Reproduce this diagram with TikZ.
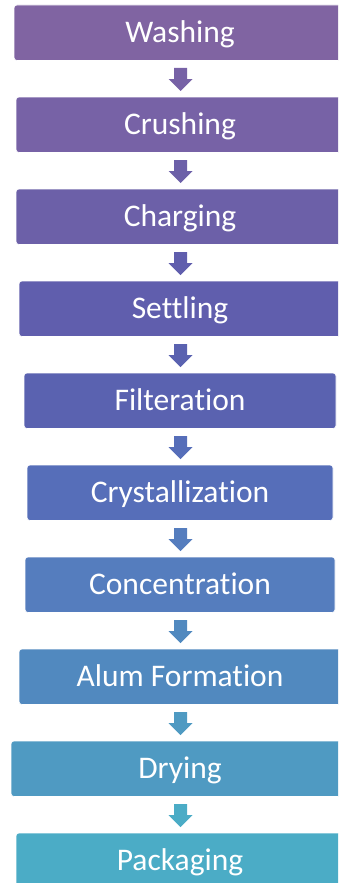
\documentclass[tikz,border=0pt]{standalone}
\usepackage{fontspec}
\setmainfont{Carlito}[Ligatures={NoCommon,NoContextual}]
\usetikzlibrary{calc}
\definecolor{c0}{HTML}{8064A2}
\definecolor{c1}{HTML}{7762A6}
\definecolor{c2}{HTML}{6C60A8}
\definecolor{c3}{HTML}{605EAD}
\definecolor{c4}{HTML}{5A62B0}
\definecolor{c5}{HTML}{566EB9}
\definecolor{c6}{HTML}{557DBE}
\definecolor{c7}{HTML}{5189BF}
\definecolor{c8}{HTML}{4F9AC2}
\definecolor{c9}{HTML}{4BACC6}
\tikzset{
  stepbox/.style={draw=white, line width=0.6pt, rounded corners=3pt, minimum height=55.5pt,
    inner sep=0pt, text=white, text height=20pt, text depth=0pt,
    font=\fontsize{31.5}{37}\selectfont},
  blockarrow/.style={draw=none}
}
\begin{document}
\begin{tikzpicture}[x=1pt,y=-1pt]
\useasboundingbox (0,0) rectangle (338,883);
\clip (0,0) rectangle (338,883);
\foreach \i/\txt/\w in {0/Washing/332,1/Crushing/328,2/Charging/328,3/Settling/322,4/Filteration/312,5/Crystallization/306,6/Concentration/310,7/Alum Formation/322,8/Drying/338,9/Packaging/328}{
  \node[stepbox, minimum width=\w pt, fill=c\i] (b\i) at (180,{32.75+92*\i}) {\txt};
}
\foreach \i/\j/\acol in {0/1/c1,1/2/c2,2/3/c3,3/4/c4,4/5/c5,5/6/c6,6/7/c7,7/8/c8,8/9/c9}{
  \coordinate (m\i) at ($(b\i.south)!0.5!(b\j.north)+(0.5,0.75)$);
  \fill[\acol] (m\i) ++(-6.5,-11.5) -- ++(13,0) -- ++(0,11) -- ++(5.5,0) -- ++(-12,12) -- ++(-12,-12) -- ++(5.5,0) -- cycle;
}
\end{tikzpicture}
\end{document}
